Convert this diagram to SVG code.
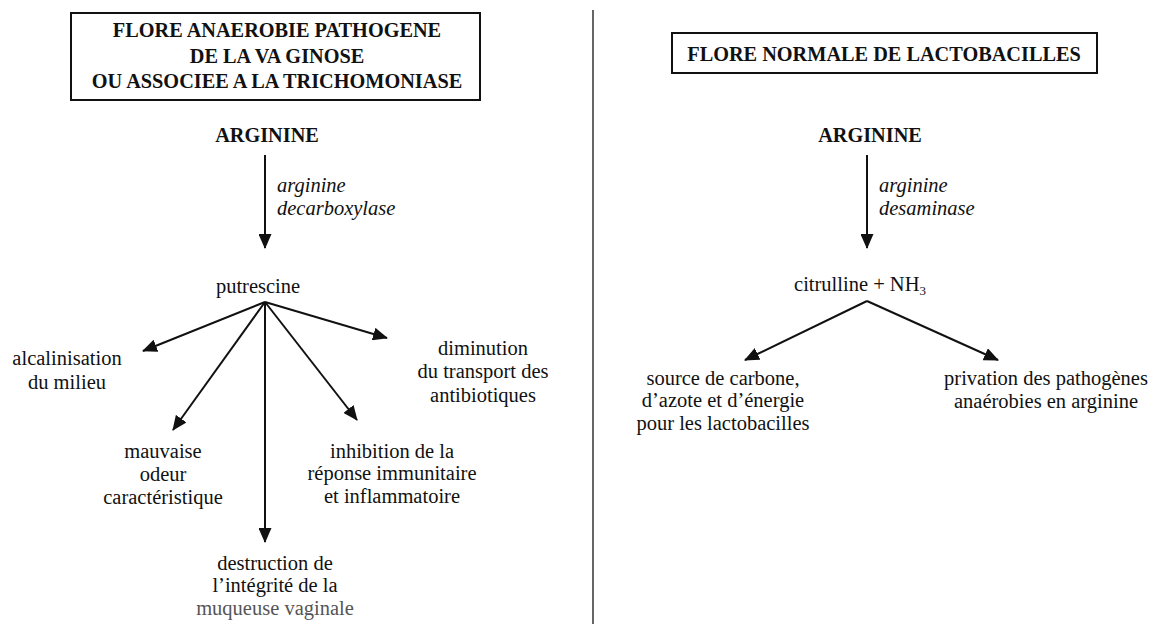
<svg xmlns="http://www.w3.org/2000/svg" width="1155" height="624" viewBox="0 0 1155 624">
<style>
text{font-family:'Liberation Serif','Times New Roman',serif;font-size:20.5px;fill:#111;}
.b{font-weight:bold;font-size:20.3px;}
.i{font-style:italic;}
.m{text-anchor:middle;}
.box{fill:#fff;stroke:#111;stroke-width:2;}
.ln{stroke:#111;stroke-width:2;fill:none;marker-end:url(#ah);}
</style>
<defs>
<marker id="ah" viewBox="0 0 15 13" refX="14" refY="6.5" markerWidth="15" markerHeight="13" markerUnits="userSpaceOnUse" orient="auto">
<path d="M0,0 L15,6.5 L0,13 Z" fill="#111"/>
</marker>
</defs>
<rect width="1155" height="624" fill="#fff"/>
<line x1="593" y1="10" x2="593" y2="624" stroke="#333" stroke-width="1.5"/>
<g id="title-left">
<rect class="box" x="71" y="13" width="409" height="87"/>
<text class="b m" x="277" y="37">FLORE ANAEROBIE PATHOGENE</text>
<text class="b m" x="277" y="63">DE LA VA GINOSE</text>
<text class="b m" x="277" y="88">OU ASSOCIEE A LA TRICHOMONIASE</text>
</g>
<g id="title-right">
<rect class="box" x="672" y="33" width="425" height="40"/>
<text class="b m" x="884" y="61">FLORE NORMALE DE LACTOBACILLES</text>
</g>
<g id="arginine-left"><text class="b m" x="267" y="142">ARGININE</text></g>
<g id="enzyme-left"><text class="i" x="277" y="192">arginine</text><text class="i" x="277" y="215">decarboxylase</text></g>
<g id="putrescine"><text class="m" x="258" y="293">putrescine</text></g>
<g id="alcalinisation"><text class="m" x="67" y="365">alcalinisation</text><text class="m" x="67" y="389">du milieu</text></g>
<g id="mauvaise"><text class="m" x="163" y="458">mauvaise</text><text class="m" x="163" y="481">odeur</text><text class="m" x="163" y="504">caractéristique</text></g>
<g id="destruction"><text class="m" x="275" y="570">destruction de</text><text class="m" x="275" y="592">l’intégrité de la</text><text class="m" x="275" y="615" style="fill:#555">muqueuse vaginale</text></g>
<g id="inhibition"><text class="m" x="392" y="458">inhibition de la</text><text class="m" x="392" y="480">réponse immunitaire</text><text class="m" x="392" y="503">et inflammatoire</text></g>
<g id="diminution"><text class="m" x="483" y="355">diminution</text><text class="m" x="483" y="378">du transport des</text><text class="m" x="483" y="402">antibiotiques</text></g>
<g id="arginine-right"><text class="b m" x="870" y="142">ARGININE</text></g>
<g id="enzyme-right"><text class="i" x="879" y="192">arginine</text><text class="i" x="879" y="215">desaminase</text></g>
<g id="citrulline"><text class="m" x="860" y="291">citrulline + NH<tspan font-size="13" dy="4">3</tspan></text></g>
<g id="source"><text class="m" x="723" y="385">source de carbone,</text><text class="m" x="723" y="407">d’azote et d’énergie</text><text class="m" x="723" y="430">pour les lactobacilles</text></g>
<g id="privation"><text class="m" x="1046" y="385">privation des pathogènes</text><text class="m" x="1046" y="408">anaérobies en arginine</text></g>
<g id="connectors">
<line class="ln" x1="265" y1="155" x2="265" y2="248"/>
<line class="ln" x1="867" y1="155" x2="867" y2="248"/>
<line class="ln" x1="265" y1="302" x2="143" y2="351"/>
<line class="ln" x1="265" y1="302" x2="173" y2="430"/>
<line class="ln" x1="265" y1="302" x2="265" y2="542"/>
<line class="ln" x1="265" y1="302" x2="357" y2="420"/>
<line class="ln" x1="265" y1="302" x2="387" y2="338"/>
<line class="ln" x1="867" y1="301" x2="745" y2="360"/>
<line class="ln" x1="867" y1="301" x2="998" y2="360"/>
</g>
</svg>
